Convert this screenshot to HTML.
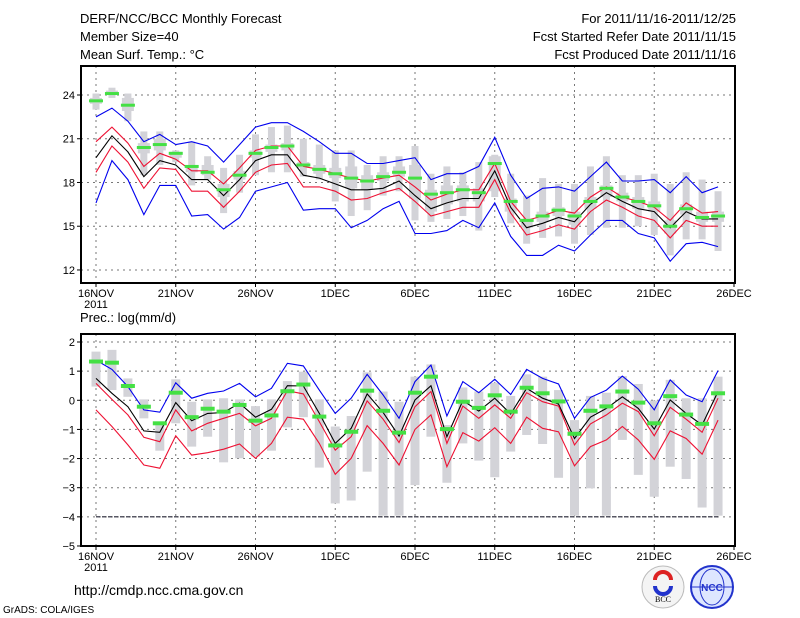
<!DOCTYPE html>
<html><head><meta charset="utf-8"><style>
body{margin:0;background:#fff;}
svg{display:block;font-family:"Liberation Sans",sans-serif;}
</style></head><body>
<svg id="c" width="800" height="618" xmlns="http://www.w3.org/2000/svg">
<g font-size="13" fill="#000">
<text x="80" y="23">DERF/NCC/BCC Monthly Forecast</text>
<text x="80" y="41">Member Size=40</text>
<text x="80" y="59">Mean Surf. Temp.: °C</text>
<text x="736" y="23" text-anchor="end">For 2011/11/16-2011/12/25</text>
<text x="736" y="41" text-anchor="end">Fcst Started Refer Date 2011/11/15</text>
<text x="736" y="59" text-anchor="end">Fcst Produced Date 2011/11/16</text>
<text x="80" y="322">Prec.: log(mm/d)</text>
<text x="74" y="595" font-size="14">http://cmdp.ncc.cma.gov.cn</text>
<text x="3" y="613" font-size="10">GrADS: COLA/IGES</text>
</g>
<g>
<circle cx="663" cy="587" r="21" fill="#f4f4f4" stroke="#bbb"/>
<path d="M655 580 a8 8 0 1 1 16 0" fill="none" stroke="#d22" stroke-width="4"/>
<path d="M655 586 a8 8 0 1 0 16 0" fill="none" stroke="#23c" stroke-width="4"/>
<text x="663" y="602" font-size="8" text-anchor="middle" font-family="Liberation Serif,serif">BCC</text>
</g>
<g>
<circle cx="712" cy="587" r="21" fill="#dde6ff" stroke="#23c" stroke-width="2"/>
<ellipse cx="712" cy="587" rx="12" ry="18" fill="none" stroke="#23c"/>
<line x1="691" y1="587" x2="733" y2="587" stroke="#23c"/>
<text x="712" y="591" font-size="10" text-anchor="middle" fill="#23c" font-weight="bold">NCC</text>
</g>
</svg>
<script>
// ---- top panel data (temperature, °C), days 16NOV..25DEC ----
const dayLabels = ["16NOV","21NOV","26NOV","1DEC","6DEC","11DEC","16DEC","21DEC","26DEC"];
const tempTicks = [24,21,18,15,12];
const precTicks = [2,1,0,-1,-2,-3,-4,-5];
const tBlueHi = [22.5,23.1,22.2,20.8,21.3,20.6,20.8,20.5,19.4,20.6,21.8,22.1,22.1,21.5,20.8,20.0,20.0,19.3,19.3,19.5,19.7,18.2,18.6,18.6,19.1,21.1,18.5,16.9,17.6,17.7,17.4,18.4,19.4,18.1,18.1,18.2,17.3,18.4,17.3,17.7];
const tRedHi = [20.8,21.8,20.7,19.1,20.0,19.6,18.8,18.8,17.9,19.0,20.2,20.5,20.5,19.1,18.9,18.6,18.3,18.1,18.3,18.5,17.7,16.8,17.2,17.5,17.5,19.3,16.7,15.4,15.7,16.1,15.9,17.0,17.7,17.0,16.7,16.3,15.4,16.6,15.9,16.0];
const tMean = [19.7,21.2,20.1,18.4,19.5,19.2,18.2,18.2,17.1,18.2,19.5,19.9,19.9,18.5,18.3,17.9,17.5,17.5,17.6,18.1,17.1,16.2,16.6,16.9,16.9,18.8,16.3,14.9,15.2,15.6,15.3,16.5,17.3,16.7,16.2,16.0,14.9,16.0,15.5,15.5];
const tRedLo = [18.7,20.5,19.4,17.6,19.0,18.9,17.4,17.4,16.3,17.4,18.7,19.2,19.3,17.7,17.7,17.4,16.8,16.9,17.3,17.6,16.7,15.7,16.0,16.3,16.3,18.2,15.9,14.4,14.7,15.1,14.8,16.0,16.8,16.3,15.7,15.4,14.2,15.4,15.0,15.0];
const tBlueLo = [16.6,19.5,18.2,15.8,17.8,17.8,15.7,15.8,14.8,15.6,17.4,17.7,18.0,16.1,16.2,16.2,14.9,15.4,16.2,16.7,14.5,14.5,14.7,15.4,14.9,16.6,14.3,13.0,13.0,13.7,13.3,14.4,15.4,15.4,14.5,14.2,12.6,13.8,13.9,13.6];
const tObs = [23.6,24.1,23.3,20.4,20.6,20.0,19.1,18.7,17.5,18.5,20.0,20.4,20.5,19.2,18.9,18.6,18.3,18.1,18.4,18.7,18.3,17.2,17.3,17.5,17.3,19.3,16.7,15.4,15.7,16.1,15.7,16.7,17.6,17.0,16.7,16.4,15.0,16.2,15.6,15.7];
const tMax = [24.1,24.5,24.1,21.5,21.5,20.2,20.8,19.8,19.0,19.9,21.3,21.8,21.9,21.0,20.6,20.2,20.2,19.2,19.8,19.8,20.5,18.6,19.1,18.7,19.4,19.9,18.6,17.1,18.3,17.9,17.9,19.1,19.8,18.5,18.5,18.6,17.9,18.7,18.2,17.4];
const tMin = [23.0,23.8,22.2,18.5,19.2,19.4,17.8,18.2,15.9,17.3,18.5,18.7,18.7,18.4,18.2,16.7,15.7,16.1,17.1,17.4,15.4,15.3,15.5,15.7,14.7,17.0,15.2,13.8,14.2,14.3,13.8,14.4,14.9,14.9,15.0,14.4,13.0,14.1,14.1,13.3];
const tQ3 = [23.8,24.3,23.8,20.7,21.0,20.1,19.1,19.2,17.9,18.8,20.2,20.6,20.7,19.4,19.2,19.0,19.1,18.5,18.7,19.1,19.2,17.5,17.8,17.8,17.6,19.8,16.9,15.5,16.0,16.3,16.0,17.0,17.8,17.3,17.0,16.7,15.4,16.5,16.0,16.0];
const tQ1 = [23.4,24.0,22.9,20.0,20.2,19.7,18.7,18.5,17.0,18.2,19.7,20.1,20.2,19.0,18.6,18.3,17.6,17.5,18.1,18.4,16.9,16.0,16.5,16.7,16.7,17.4,16.0,14.9,15.3,15.7,15.1,16.2,17.0,16.7,16.2,16.0,14.5,15.8,15.3,15.3];
// ---- bottom panel data (precip, log mm/d) ----
const pBlue = [1.38,1.06,0.47,-0.33,-0.41,0.6,0.07,0.24,0.32,0.58,0.12,0.41,1.27,1.18,0.35,-0.45,0.07,0.89,0.18,-0.62,0.64,1.21,-0.54,0.64,0.26,0.72,0.2,1.06,0.75,0.56,-0.62,0.1,0.35,0.83,0.38,-0.33,0.7,0.18,-0.05,1.02];
const pRedHi = [0.58,0.03,-0.5,-1.27,-1.42,-0.33,-1.05,-0.79,-0.62,-0.45,-0.88,-0.62,0.33,0.22,-0.73,-1.71,-1.25,-0.02,-0.65,-1.45,-0.22,0.3,-1.48,-0.2,-0.62,-0.16,-0.62,0.26,-0.05,-0.2,-1.53,-0.81,-0.5,-0.1,-0.39,-1.22,-0.24,-0.65,-1.1,0.07];
const pMean = [0.75,0.24,-0.22,-1.05,-1.1,-0.08,-0.7,-0.45,-0.42,-0.1,-0.58,-0.31,0.5,0.49,-0.45,-1.48,-0.96,0.22,-0.42,-1.23,0.01,0.5,-1.25,-0.01,-0.37,0.07,-0.47,0.41,0.07,-0.13,-1.31,-0.58,-0.28,0.12,-0.28,-0.99,0.01,-0.45,-0.85,0.3];
const pRedLo = [-0.33,-0.9,-1.53,-2.22,-2.33,-1.22,-1.88,-1.8,-1.68,-1.5,-1.99,-1.48,-0.58,-0.65,-1.48,-2.54,-1.99,-0.87,-1.48,-2.22,-1.0,-0.5,-2.28,-1.11,-1.4,-0.94,-1.48,-0.58,-0.96,-1.08,-2.25,-1.59,-1.36,-0.9,-1.36,-2.03,-1.05,-1.31,-1.85,-0.68];
const pBlueLo = [-4,-4,-4,-4,-4,-4,-4,-4,-4,-4,-4,-4,-4,-4,-4,-4,-4,-4,-4,-4,-4,-4,-4,-4,-4,-4,-4,-4,-4,-4,-4,-4,-4,-4,-4,-4,-4,-4,-4,-4];
const pObs = [1.33,1.29,0.49,-0.22,-0.79,0.26,-0.58,-0.29,-0.39,-0.16,-0.7,-0.52,0.31,0.54,-0.56,-1.55,-1.08,0.33,-0.36,-1.11,0.26,0.81,-0.99,-0.05,-0.26,0.17,-0.39,0.43,0.24,-0.04,-1.15,-0.36,-0.21,0.3,-0.08,-0.79,0.14,-0.49,-0.81,0.24];
const pMax = [1.67,1.73,0.75,0.03,-0.85,0.72,-0.05,0.03,0.07,0.03,-0.2,0.03,0.66,0.98,0.03,-0.9,-0.54,0.96,0.3,-0.05,0.81,1.23,-0.85,0.44,0.3,0.6,0.15,0.89,0.81,0.35,-0.68,0.15,0.26,0.83,0.56,-0.01,0.7,0.07,0.07,0.81];
const pMin = [0.47,0.35,0.12,-0.62,-1.73,-0.79,-1.59,-1.25,-2.13,-1.99,-1.93,-1.73,-0.93,-0.58,-2.31,-3.54,-3.44,-2.45,-3.96,-3.96,-2.91,-1.25,-2.83,-1.48,-2.07,-2.64,-1.76,-1.19,-1.5,-2.66,-3.96,-3.02,-3.96,-1.36,-2.56,-3.31,-2.28,-2.7,-3.68,-3.96];

const NS='http://www.w3.org/2000/svg';
const svg=document.getElementById('c');
const X0=96, DX=15.95;
function xd(d){return X0+d*DX;}
function yT(v){return 95+(24-v)*14.58;}
function yP(v){return 342+(2-v)*29.14;}
function mk(tag,attrs,parent){const e=document.createElementNS(NS,tag);for(const k in attrs)e.setAttribute(k,attrs[k]);(parent||svg).appendChild(e);return e;}

function panel(name,top,bottom,ticks,yf,tickFmt){
  const g=mk('g',{});
  
  
  dayLabels.forEach((lab,i)=>{
    const x=xd(i*5);
    if(i<dayLabels.length-1){const l=mk('line',{x1:x,x2:x,y1:top,y2:bottom,stroke:'#777','stroke-dasharray':'2,4'},g);
      
      }
    mk('line',{x1:x,x2:x,y1:bottom,y2:bottom+4,stroke:'#000'},g);
    const t=mk('text',{x:x,y:bottom+14,'font-size':'11','text-anchor':'middle'},g);
    t.textContent=lab;
    
    
  });
  const t2=mk('text',{x:X0,y:bottom+25,'font-size':'11','text-anchor':'middle'},g);t2.textContent='2011';
  
  
  ticks.forEach(v=>{
    const y=yf(v);
    if(y>top+1&&y<bottom-1){const l=mk('line',{x1:81,x2:735,y1:y,y2:y,stroke:'#777','stroke-dasharray':'2,4'},g);
      
      }
    mk('line',{x1:77,x2:81,y1:y,y2:y,stroke:'#000'},g);
    const t=mk('text',{x:75,y:y+4,'font-size':'11','text-anchor':'end'},g);t.textContent=tickFmt(v);
    
    
  });
  return g;
}
function line(g,arr,yf,color,name,dash){
  const p=mk('polyline',{points:arr.map((v,i)=>xd(i)+','+yf(v).toFixed(1)).join(' '),fill:'none',stroke:color,'stroke-width':'1.1'},g);
  if(dash)p.setAttribute('stroke-dasharray',dash);
  
  
}
function frame(g,top,bottom){
  const r=mk('rect',{x:81,y:top,width:654,height:bottom-top,fill:'none',stroke:'#000','stroke-width':'2'},g);
  
  
}

const gT=panel('temperature-panel',66,283,tempTicks,yT,v=>String(v));
tMax.forEach((v,i)=>{
  const x=xd(i);
  const w=mk('rect',{x:x-3.5,y:yT(v),width:7,height:yT(tMin[i])-yT(v),fill:'#d3d3d8'},gT);
  
  
  const b=mk('rect',{x:x-6,y:yT(tQ3[i]),width:12,height:yT(tQ1[i])-yT(tQ3[i]),fill:'#d3d3d8'},gT);
  
  
});
line(gT,tBlueLo,yT,'#0000ee','temp-min-line');
line(gT,tRedLo,yT,'#ee1133','temp-lower-line');
line(gT,tMean,yT,'#000','temp-mean-line');
line(gT,tRedHi,yT,'#ee1133','temp-upper-line');
line(gT,tBlueHi,yT,'#0000ee','temp-max-line');
tObs.forEach((v,i)=>{
  const r=mk('rect',{x:xd(i)-7,y:yT(v)-1.5,width:14,height:3,fill:'#44e044'},gT);
  
  
});
frame(gT,66,283);

const gP=panel('precip-panel',334,546,precTicks,yP,v=>v<0?'\u2212'+(-v):String(v));
pMax.forEach((v,i)=>{
  const r=mk('rect',{x:xd(i)-4.5,y:yP(v),width:9,height:yP(pMin[i])-yP(v),fill:'#d3d3d8'},gP);
  
  
});
line(gP,pBlueLo,yP,'#223','precip-min-line','4,2');
line(gP,pRedLo,yP,'#ee1133','precip-lower-line');
line(gP,pMean,yP,'#000','precip-mean-line');
line(gP,pRedHi,yP,'#ee1133','precip-upper-line');
line(gP,pBlue,yP,'#0000ee','precip-max-line');
pObs.forEach((v,i)=>{
  const r=mk('rect',{x:xd(i)-7,y:yP(v)-2,width:14,height:4,fill:'#44e044'},gP);
  
  
});
frame(gP,334,546);
</script>
</body></html>
